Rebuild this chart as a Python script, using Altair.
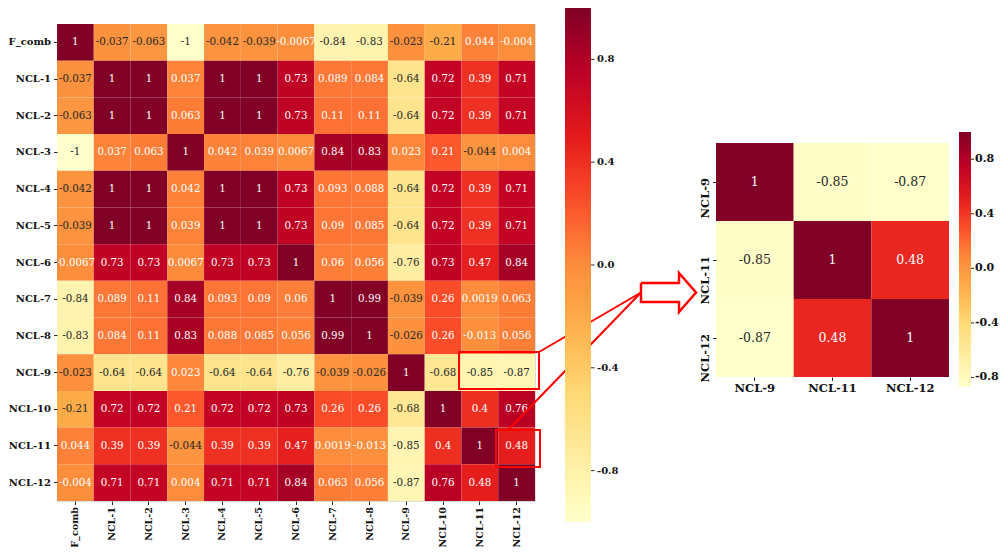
import altair as alt
import pandas as pd

labels = ["F_comb", "NCL-1", "NCL-2", "NCL-3", "NCL-4", "NCL-5", "NCL-6",
          "NCL-7", "NCL-8", "NCL-9", "NCL-10", "NCL-11", "NCL-12"]

r_fcomb = [1, -0.037, -0.063, -1, -0.042, -0.039, -0.0067, -0.84, -0.83, -0.023, -0.21, 0.044, -0.004]
r_ncl1 = [-0.037, 1, 1, 0.037, 1, 1, 0.73, 0.089, 0.084, -0.64, 0.72, 0.39, 0.71]
r_ncl2 = [-0.063, 1, 1, 0.063, 1, 1, 0.73, 0.11, 0.11, -0.64, 0.72, 0.39, 0.71]
r_ncl3 = [-1, 0.037, 0.063, 1, 0.042, 0.039, 0.0067, 0.84, 0.83, 0.023, 0.21, -0.044, 0.004]
r_ncl4 = [-0.042, 1, 1, 0.042, 1, 1, 0.73, 0.093, 0.088, -0.64, 0.72, 0.39, 0.71]
r_ncl5 = [-0.039, 1, 1, 0.039, 1, 1, 0.73, 0.09, 0.085, -0.64, 0.72, 0.39, 0.71]
r_ncl6 = [-0.0067, 0.73, 0.73, 0.0067, 0.73, 0.73, 1, 0.06, 0.056, -0.76, 0.73, 0.47, 0.84]
r_ncl7 = [-0.84, 0.089, 0.11, 0.84, 0.093, 0.09, 0.06, 1, 0.99, -0.039, 0.26, 0.0019, 0.063]
r_ncl8 = [-0.83, 0.084, 0.11, 0.83, 0.088, 0.085, 0.056, 0.99, 1, -0.026, 0.26, -0.013, 0.056]
r_ncl9 = [-0.023, -0.64, -0.64, 0.023, -0.64, -0.64, -0.76, -0.039, -0.026, 1, -0.68, -0.85, -0.87]
r_ncl10 = [-0.21, 0.72, 0.72, 0.21, 0.72, 0.72, 0.73, 0.26, 0.26, -0.68, 1, 0.4, 0.76]
r_ncl11 = [0.044, 0.39, 0.39, -0.044, 0.39, 0.39, 0.47, 0.0019, -0.013, -0.85, 0.4, 1, 0.48]
r_ncl12 = [-0.004, 0.71, 0.71, 0.004, 0.71, 0.71, 0.84, 0.063, 0.056, -0.87, 0.76, 0.48, 1]

matrix = [r_fcomb, r_ncl1, r_ncl2, r_ncl3, r_ncl4, r_ncl5, r_ncl6,
          r_ncl7, r_ncl8, r_ncl9, r_ncl10, r_ncl11, r_ncl12]

sub_labels = ["NCL-9", "NCL-11", "NCL-12"]
cbar_ticks = [-0.8, -0.4, 0.0, 0.4, 0.8]

# YlOrRd colour stops (matplotlib / ColorBrewer)
ylorrd = ["#ffffcc", "#ffeda0", "#fed976", "#feb24c", "#fd8d3c",
          "#fc4e2a", "#e31a1c", "#bd0026", "#800026"]
main_stops = [-1.0, -0.75, -0.5, -0.25, 0.0, 0.25, 0.5, 0.75, 1.0]
sub_stops = [-0.87, -0.63625, -0.4025, -0.16875, 0.065, 0.29875, 0.5325, 0.76625, 1.0]

# ---------------- tables ----------------
main_rows = []
for i, rl in enumerate(labels):
    for j, cl in enumerate(labels):
        v = matrix[i][j]
        main_rows.append({"row": rl, "col": cl, "v": v, "txt": format(v, ".2g")})
df_main = pd.DataFrame(main_rows)

sub_rows = []
for rl in sub_labels:
    for cl in sub_labels:
        v = matrix[labels.index(rl)][labels.index(cl)]
        sub_rows.append({"row": rl, "col": cl, "v": v, "txt": format(v, ".2g")})
df_sub = pd.DataFrame(sub_rows)
df_ticks = pd.DataFrame({"t": cbar_ticks})

# ---------------- layout (pixels, frame origin = main heatmap top-left) ----------------
W, H = 478, 477
SERIF = "DejaVu Serif, serif"
DARK = "#262626"
LBL = "#111111"

SUB_X = [659, 892]
SUB_Y = [119, 353]

MAIN_LEG = dict(x=508, y=-16, len=514, thick=26)
SUB_LEG = dict(x=902, y=108, len=255, thick=12)

LABEL_EXPR = "datum.value < 0 ? '-' + format(-datum.value, '.1f') : format(datum.value, '.1f')"

text_color = alt.condition("datum.v > -0.02", alt.value("white"), alt.value(DARK))

# ---------------- main heatmap ----------------
base_main = alt.Chart(df_main).encode(
    x=alt.X("col:N", sort=labels,
            scale=alt.Scale(paddingInner=0, paddingOuter=0),
            axis=alt.Axis(orient="bottom", title=None, labelAngle=270, labelAlign="right",
                          labelBaseline="middle", labelFont=SERIF, labelFontWeight="bold",
                          labelFontSize=9.6, labelColor=LBL, labelPadding=2,
                          tickSize=3.5, tickColor=DARK, domain=False, grid=False)),
    y=alt.Y("row:N", sort=labels,
            scale=alt.Scale(paddingInner=0, paddingOuter=0),
            axis=alt.Axis(orient="left", title=None, labelAngle=0, labelAlign="right",
                          labelBaseline="middle", labelFont=SERIF, labelFontWeight="bold",
                          labelFontSize=10, labelColor=LBL, labelPadding=3,
                          tickSize=3.5, tickColor=DARK, domain=False, grid=False)),
)
rect_main = base_main.mark_rect().encode(
    color=alt.Color("v:Q", title=None,
                    scale=alt.Scale(domain=main_stops, range=ylorrd, interpolate="rgb"),
                    legend=alt.Legend(orient="none", legendX=MAIN_LEG["x"], legendY=MAIN_LEG["y"],
                                      direction="vertical", gradientLength=MAIN_LEG["len"],
                                      gradientThickness=MAIN_LEG["thick"], values=cbar_ticks,
                                      labelExpr=LABEL_EXPR, labelFont=SERIF, labelFontWeight="bold",
                                      labelFontSize=10, labelColor=LBL, labelOffset=6,
                                      padding=0, gradientStrokeWidth=0))
)
text_main = base_main.mark_text(font=SERIF, fontSize=10.3).encode(text="txt:N", color=text_color)
main_group = alt.layer(rect_main, text_main)

# ---------------- zoomed heatmap ----------------
base_sub = alt.Chart(df_sub).encode(
    x=alt.X("col:N", sort=sub_labels,
            scale=alt.Scale(range=SUB_X, paddingInner=0, paddingOuter=0),
            axis=alt.Axis(orient="bottom", offset=SUB_Y[1] - H, title=None, labelAngle=0,
                          labelFont=SERIF, labelFontWeight="bold", labelFontSize=11.5,
                          labelColor=LBL, labelPadding=2, tickSize=3.5, tickColor=DARK,
                          domain=False, grid=False)),
    y=alt.Y("row:N", sort=sub_labels,
            scale=alt.Scale(range=SUB_Y, paddingInner=0, paddingOuter=0),
            axis=alt.Axis(orient="left", offset=-SUB_X[0], title=None, labelAngle=270,
                          labelAlign="right", labelBaseline="bottom", labelOffset=-4,
                          labelFont=SERIF, labelFontWeight="bold", labelFontSize=11.5,
                          labelColor=LBL, labelPadding=2, tickSize=3.5, tickColor=DARK,
                          domain=False, grid=False)),
)
rect_sub = base_sub.mark_rect().encode(
    color=alt.Color("v:Q", title=None,
                    scale=alt.Scale(domain=sub_stops, range=ylorrd, interpolate="rgb"),
                    legend=alt.Legend(orient="none", legendX=SUB_LEG["x"], legendY=SUB_LEG["y"],
                                      direction="vertical", gradientLength=SUB_LEG["len"],
                                      gradientThickness=SUB_LEG["thick"], values=cbar_ticks,
                                      labelExpr=LABEL_EXPR, labelFont=SERIF, labelFontWeight="bold",
                                      labelFontSize=11, labelColor=LBL, labelOffset=4,
                                      padding=0, gradientStrokeWidth=0))
)
text_sub = base_sub.mark_text(font=SERIF, fontSize=12.5).encode(text="txt:N", color=text_color)
sub_group = alt.layer(rect_sub, text_sub)

# ---------------- colorbar tick marks ----------------
main_ticks = alt.Chart(df_ticks).mark_rule(color=DARK, strokeWidth=1).encode(
    y=alt.Y("t:Q", axis=None,
            scale=alt.Scale(domain=[-1, 1], range=[MAIN_LEG["y"] + MAIN_LEG["len"], MAIN_LEG["y"]])),
    x=alt.value(MAIN_LEG["x"] + MAIN_LEG["thick"]),
    x2=alt.value(MAIN_LEG["x"] + MAIN_LEG["thick"] + 3.5),
)
sub_ticks = alt.Chart(df_ticks).mark_rule(color=DARK, strokeWidth=1).encode(
    y=alt.Y("t:Q", axis=None,
            scale=alt.Scale(domain=[-0.87, 1], range=[SUB_LEG["y"] + SUB_LEG["len"], SUB_LEG["y"]])),
    x=alt.value(SUB_LEG["x"] + SUB_LEG["thick"]),
    x2=alt.value(SUB_LEG["x"] + SUB_LEG["thick"] + 3),
)

# ---------------- red callout decoration ----------------
box_df = pd.DataFrame({"x": [402, 439], "x2": [482, 483], "y": [328, 406], "y2": [365, 443]})
boxes = alt.Chart(box_df).mark_rect(fillOpacity=0, stroke="#ff0000", strokeWidth=2).encode(
    x=alt.X("x:Q", scale=None, axis=None), x2="x2:Q",
    y=alt.Y("y:Q", scale=None, axis=None), y2="y2:Q",
)
link_df = pd.DataFrame({"x": [482, 451], "y": [328, 406], "x2": [584, 584], "y2": [268.5, 268.5]})
links = alt.Chart(link_df).mark_rule(color="#ff0000", strokeWidth=2).encode(
    x=alt.X("x:Q", scale=None, axis=None), x2="x2:Q",
    y=alt.Y("y:Q", scale=None, axis=None), y2="y2:Q",
)
arrow_df = pd.DataFrame({
    "i": list(range(8)),
    "x": [584, 622, 622, 639, 622, 622, 584, 584],
    "y": [259, 259, 249, 268.5, 288, 278, 278, 259],
})
arrow = alt.Chart(arrow_df).mark_line(color="#ff0000", strokeWidth=2.5, strokeJoin="miter").encode(
    x=alt.X("x:Q", scale=None, axis=None),
    y=alt.Y("y:Q", scale=None, axis=None),
    order="i:Q",
)
deco = alt.layer(boxes, links, arrow)

chart = alt.layer(main_group, sub_group, main_ticks, sub_ticks, deco).resolve_scale(
    x="independent", y="independent", color="independent"
).properties(
    width=W, height=H,
    autosize=alt.AutoSizeParams(type="none"),
    padding={"left": 49, "top": 16, "right": 465, "bottom": 46},
).configure_view(strokeWidth=0).configure(background="white")

chart.save("out.html", embed_options={"renderer": "svg", "actions": False})
